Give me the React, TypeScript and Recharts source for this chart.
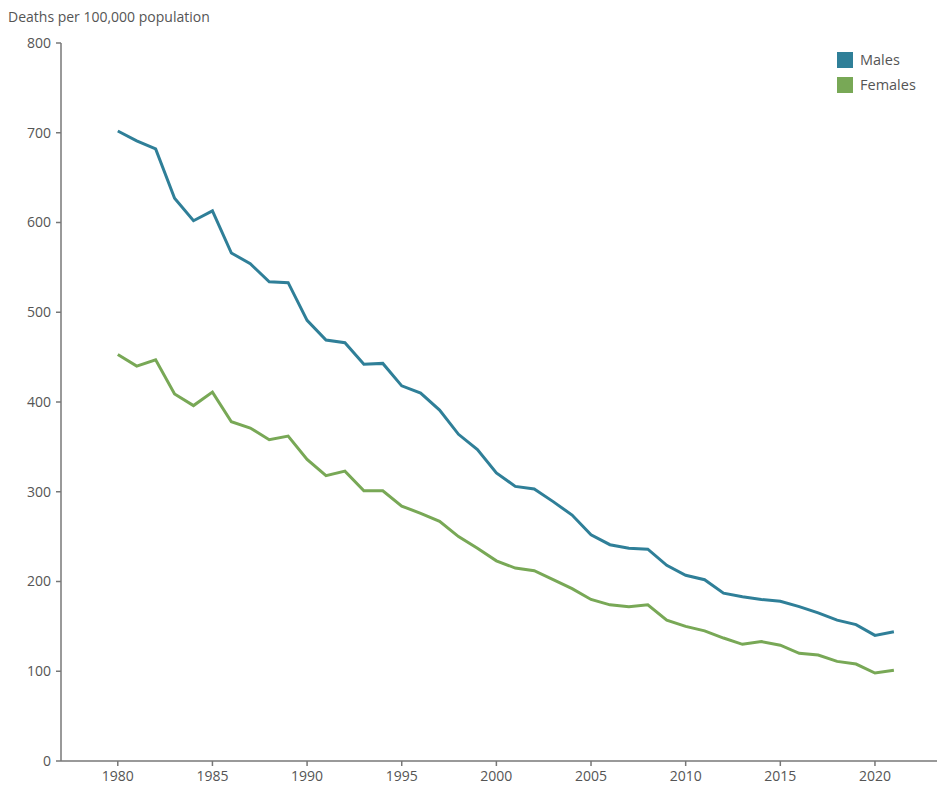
import { LineChart, Line, XAxis, YAxis } from 'recharts';

const years = [
  1980, 1981, 1982, 1983, 1984, 1985, 1986, 1987, 1988, 1989, 1990, 1991, 1992, 1993,
  1994, 1995, 1996, 1997, 1998, 1999, 2000, 2001, 2002, 2003, 2004, 2005, 2006, 2007,
  2008, 2009, 2010, 2011, 2012, 2013, 2014, 2015, 2016, 2017, 2018, 2019, 2020, 2021,
];

const males = [
  702, 691, 682, 627, 602, 613, 566, 554, 534, 533, 491, 469, 466, 442,
  443, 418, 410, 391, 364, 347, 321, 306, 303, 289, 274, 252, 241, 237,
  236, 218, 207, 202, 187, 183, 180, 178, 172, 165, 157, 152, 140, 144,
];

const females = [
  453, 440, 447, 409, 396, 411, 378, 371, 358, 362, 336, 318, 323, 301,
  301, 284, 276, 267, 250, 237, 223, 215, 212, 202, 192, 180, 174, 172,
  174, 157, 150, 145, 137, 130, 133, 129, 120, 118, 111, 108, 98, 101,
];

const xTicks = [1980, 1985, 1990, 1995, 2000, 2005, 2010, 2015, 2020];
const yTicks = [0, 100, 200, 300, 400, 500, 600, 700, 800];

const MALE = '#2f7f98';
const FEMALE = '#78a856';
const TEXT = '#555';
const AXIS = '#777';
const FONT = '"Open Sans", "Noto Sans", sans-serif';

const data = years.map((year, i) => ({ year, Males: males[i], Females: females[i] }));

const legendItems = [
  { name: 'Males', color: MALE },
  { name: 'Females', color: FEMALE },
];

export default function App() {
  return (
    <div style={{ position: 'relative', width: 945, height: 791, margin: -8, background: '#fff' }}>
      <div
        style={{
          position: 'absolute',
          left: 8,
          top: 7,
          fontFamily: FONT,
          fontSize: 14,
          color: TEXT,
        }}
      >
        Deaths per 100,000 population
      </div>
      <div
        style={{
          position: 'absolute',
          left: 837,
          top: 47,
          fontFamily: FONT,
          fontSize: 14.5,
          color: TEXT,
        }}
      >
        {legendItems.map((it) => (
          <div key={it.name} style={{ display: 'flex', alignItems: 'center', height: 25 }}>
            <span
              style={{
                width: 16,
                height: 16,
                background: it.color,
                display: 'inline-block',
                marginRight: 7,
              }}
            />
            {it.name}
          </div>
        ))}
      </div>
      <LineChart
        width={945}
        height={791}
        data={data}
        margin={{ top: 43, right: 0, left: 0, bottom: 0 }}
      >
        <XAxis
          dataKey="year"
          type="number"
          domain={[1977, 2023.7]}
          ticks={xTicks}
          allowDataOverflow
          height={30}
          stroke={AXIS}
          strokeWidth={1.5}
          tickSize={5}
          tickMargin={5}
          tick={{ fill: TEXT, fontSize: 14, fontFamily: FONT }}
        />
        <YAxis
          domain={[0, 800]}
          ticks={yTicks}
          width={61}
          stroke={AXIS}
          strokeWidth={1.5}
          tickSize={5}
          tickMargin={5}
          tick={{ fill: TEXT, fontSize: 14, fontFamily: FONT }}
        />
        <Line
          dataKey="Males"
          stroke={MALE}
          strokeWidth={3}
          dot={false}
          isAnimationActive={false}
        />
        <Line
          dataKey="Females"
          stroke={FEMALE}
          strokeWidth={3}
          dot={false}
          isAnimationActive={false}
        />
      </LineChart>
    </div>
  );
}
